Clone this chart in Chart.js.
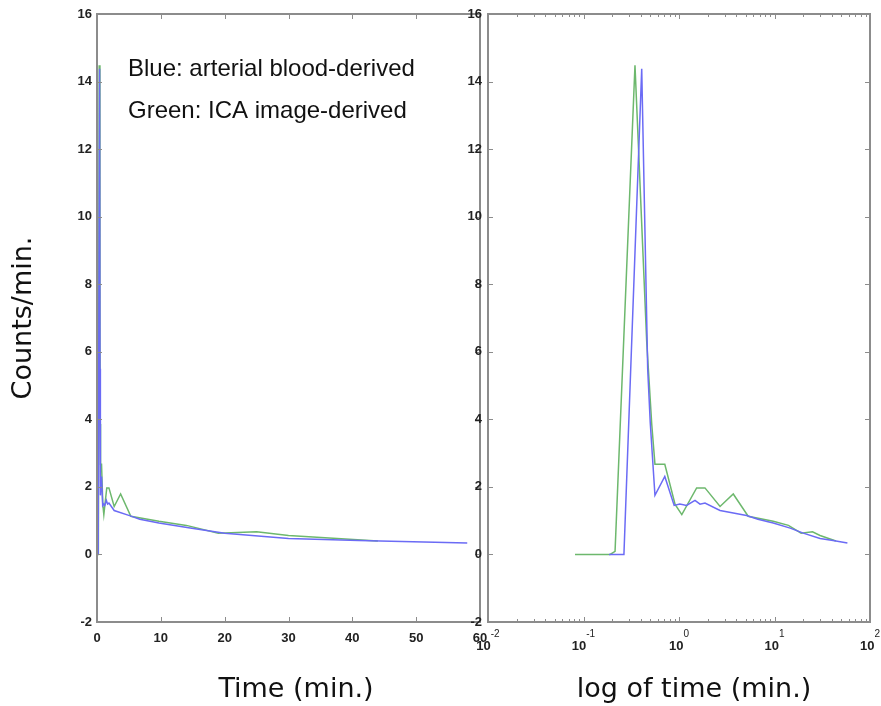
<!DOCTYPE html>
<html>
<head>
<meta charset="utf-8">
<script src="https://cdn.jsdelivr.net/npm/chart.js@4"></script>
<style>
  html, body { margin: 0; padding: 0; background: #fff; }
  #wrap { position: relative; width: 881px; height: 706px; }
  canvas { position: absolute; left: 0; top: 0; }
</style>
</head>
<body>
<div id="wrap">
  <canvas id="c1" width="881" height="706"></canvas>
  <canvas id="c2" width="881" height="706"></canvas>
</div>
<script>
// ---- data (time in minutes, counts/min) ----
const blueTime   = [0.185, 0.265, 0.407, 0.47, 0.50, 0.56, 0.71, 0.89, 1.02, 1.2, 1.47, 1.66, 1.87, 2.69, 5.1, 6.7, 9.7, 14.6, 20, 30, 41, 58];
const blueCounts = [0, 0, 14.38, 5.5, 3.9, 1.75, 2.31, 1.45, 1.49, 1.45, 1.60, 1.49, 1.52, 1.30, 1.15, 1.04, 0.93, 0.78, 0.63, 0.47, 0.41, 0.34];
const greenTime   = [0.0815, 0.19, 0.214, 0.346, 0.459, 0.518, 0.56, 0.71, 0.91, 1.07, 1.53, 1.87, 2.69, 3.7, 5.3, 9.7, 14, 19, 25, 30, 44];
const greenCounts = [0, 0, 0.09, 14.48, 6.3, 3.86, 2.67, 2.67, 1.48, 1.18, 1.97, 1.97, 1.42, 1.79, 1.13, 0.98, 0.86, 0.63, 0.67, 0.56, 0.40];

const linearTimeTicks = [0, 10, 20, 30, 40, 50, 60];
const logTimeTicks = [0.01, 0.1, 1, 10, 100];
const logTickExponents = ['-2', '-1', '0', '1', '2'];
const countTicks = [-2, 0, 2, 4, 6, 8, 10, 12, 14, 16];
const legendLines = ['Blue: arterial blood-derived', 'Green: ICA image-derived'];
const seriesNames = ['arterial blood-derived', 'ICA image-derived'];
const axisTitles = {time: 'Time (min.)', logTime: 'log of time (min.)', counts: 'Counts/min.'};

const BLUE = '#6b6bf5';
const GREEN = '#6db86d';
const TICK_FONT = {family: 'Liberation Sans, Arial, sans-serif', size: 13, weight: 'bold'};
const TITLE_FONT = {family: 'DejaVu Sans, sans-serif', size: 27, weight: 'normal'};

function pts(t, v) { return t.map((x, i) => ({x: x, y: v[i]})); }

function datasets() {
  return [
    {label: seriesNames[0], data: pts(blueTime, blueCounts), borderColor: BLUE, borderWidth: 1.5, pointRadius: 0, tension: 0, fill: false},
    {label: seriesNames[1], data: pts(greenTime, greenCounts), borderColor: GREEN, borderWidth: 1.5, pointRadius: 0, tension: 0, fill: false}
  ];
}

function fixY(width) {
  return function(scale) { scale.width = width; scale.paddingTop = 0; scale.paddingBottom = 0; };
}
function fixX(height) {
  return function(scale) { scale.height = height; scale.paddingLeft = 0; scale.paddingRight = 0; };
}

// box with inward ticks on all four sides (MATLAB style)
const boxPlugin = {
  id: 'box',
  afterDatasetsDraw(chart, args, opts) {
    const {ctx, chartArea: a, scales} = chart;
    const x = scales.x, y = scales.y;
    ctx.save();
    ctx.strokeStyle = '#8c8c8c';
    ctx.lineWidth = 1;
    ctx.beginPath();
    countTicks.forEach(v => {
      const py = Math.round(y.getPixelForValue(v)) + 0.5;
      ctx.moveTo(a.left, py); ctx.lineTo(a.left + 5, py);
      ctx.moveTo(a.right, py); ctx.lineTo(a.right - 5, py);
    });
    if (opts.log) {
      for (let k = -2; k < 2; k++) {
        for (let m = 1; m < 10; m++) {
          const v = m * Math.pow(10, k);
          const px = Math.round(x.getPixelForValue(v)) + 0.5;
          const len = m === 1 ? 5 : 3;
          ctx.moveTo(px, a.bottom); ctx.lineTo(px, a.bottom - len);
          ctx.moveTo(px, a.top); ctx.lineTo(px, a.top + len);
        }
      }
    } else {
      linearTimeTicks.forEach(v => {
        const px = Math.round(x.getPixelForValue(v)) + 0.5;
        ctx.moveTo(px, a.bottom); ctx.lineTo(px, a.bottom - 5);
        ctx.moveTo(px, a.top); ctx.lineTo(px, a.top + 5);
      });
    }
    ctx.stroke();
    ctx.lineWidth = 2;
    ctx.strokeRect(a.left, a.top, a.right - a.left, a.bottom - a.top);
    ctx.restore();
  }
};

// superscript exponents for the log tick labels "10^k" and the x-axis titles
const labelPlugin = {
  id: 'labels',
  afterDraw(chart, args, opts) {
    const {ctx, chartArea: a, scales: {x}} = chart;
    ctx.save();
    ctx.textBaseline = 'alphabetic';
    if (opts.log) {
      ctx.fillStyle = '#222';
      logTimeTicks.forEach((v, i) => {
        const px = x.getPixelForValue(v);
        ctx.font = 'bold 13px Liberation Sans, Arial, sans-serif';
        const wb = ctx.measureText('10').width;
        ctx.font = '10px Liberation Sans, Arial, sans-serif';
        const we = ctx.measureText(logTickExponents[i]).width;
        const x0 = px - (wb + we) / 2;
        ctx.font = 'bold 13px Liberation Sans, Arial, sans-serif';
        ctx.textAlign = 'left';
        ctx.fillText('10', x0, a.bottom + 28);
        ctx.font = '10px Liberation Sans, Arial, sans-serif';
        ctx.fillText(logTickExponents[i], x0 + wb, a.bottom + 15);
      });
    }
    // x-axis title
    ctx.fillStyle = '#111';
    ctx.font = '27px DejaVu Sans, sans-serif';
    ctx.textAlign = 'center';
    ctx.fillText(opts.title, opts.titleX, 697);
    // legend text
    if (opts.legend) {
      ctx.font = '24px Liberation Sans, Arial, sans-serif';
      ctx.textAlign = 'left';
      ctx.fillText(legendLines[0], 128, 76);
      ctx.fillText(legendLines[1], 128, 118);
    }
    ctx.restore();
  }
};

Chart.defaults.animation = false;

new Chart(document.getElementById('c1'), {
  type: 'line',
  data: {datasets: datasets()},
  plugins: [boxPlugin, labelPlugin],
  options: {
    responsive: false,
    devicePixelRatio: 1,
    layout: {padding: {left: 0, top: 14, right: 401, bottom: 0}},
    plugins: {legend: {display: false}, tooltip: {enabled: false}, box: {log: false},
              labels: {log: false, legend: true, title: axisTitles.time, titleX: 296}},
    scales: {
      x: {
        type: 'linear', min: 0, max: 60,
        afterBuildTicks: s => { s.ticks = linearTimeTicks.map(v => ({value: v})); },
        afterFit: fixX(84),
        grid: {display: false, drawTicks: false}, border: {display: false},
        ticks: {color: '#222', font: TICK_FONT, padding: 9, maxRotation: 0, autoSkip: false}
      },
      y: {
        type: 'linear', min: -2, max: 16,
        afterBuildTicks: s => { s.ticks = countTicks.map(v => ({value: v})); },
        afterFit: fixY(97),
        grid: {display: false, drawTicks: false}, border: {display: false},
        ticks: {color: '#222', font: TICK_FONT, padding: 5, autoSkip: false},
        title: {display: true, text: axisTitles.counts, color: '#111', font: TITLE_FONT, padding: {top: 8, bottom: 0}}
      }
    }
  }
});

new Chart(document.getElementById('c2'), {
  type: 'line',
  data: {datasets: datasets()},
  plugins: [boxPlugin, labelPlugin],
  options: {
    responsive: false,
    devicePixelRatio: 1,
    layout: {padding: {left: 448, top: 14, right: 11, bottom: 0}},
    plugins: {legend: {display: false}, tooltip: {enabled: false}, box: {log: true},
              labels: {log: true, legend: false, title: axisTitles.logTime, titleX: 694}},
    scales: {
      x: {
        type: 'logarithmic', min: 0.01, max: 100,
        afterBuildTicks: s => { s.ticks = logTimeTicks.map(v => ({value: v})); },
        afterFit: fixX(84),
        grid: {display: false, drawTicks: false}, border: {display: false},
        ticks: {display: false}
      },
      y: {
        type: 'linear', min: -2, max: 16,
        afterBuildTicks: s => { s.ticks = countTicks.map(v => ({value: v})); },
        afterFit: fixY(40),
        grid: {display: false, drawTicks: false}, border: {display: false},
        ticks: {color: '#222', font: TICK_FONT, padding: 6, autoSkip: false}
      }
    }
  }
});
</script>
</body>
</html>
